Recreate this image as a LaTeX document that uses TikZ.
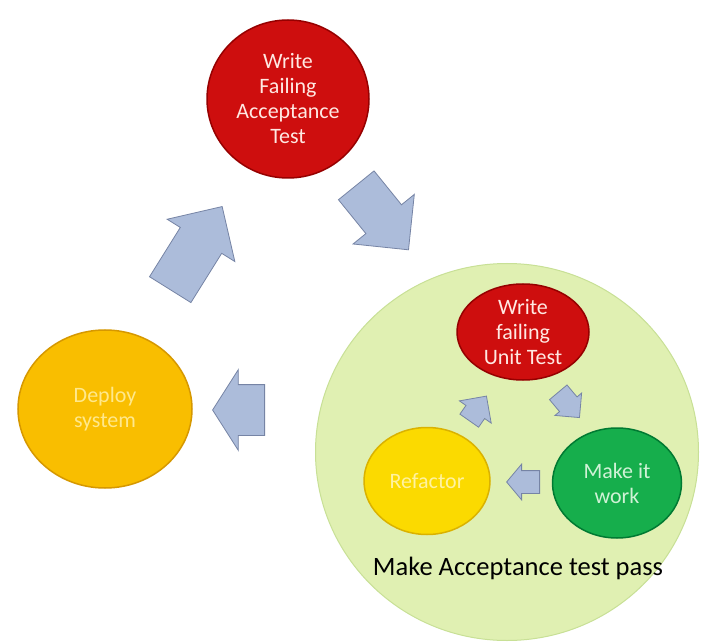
\documentclass[tikz,border=0pt]{standalone}
\usepackage{fontspec}
\setmainfont{Carlito}
\usepackage{tikz}
\usetikzlibrary{shapes.geometric,shapes.arrows}
\definecolor{redfill}{RGB}{206,14,14}
\definecolor{redrim}{RGB}{150,0,0}
\definecolor{redtext}{RGB}{255,232,226}
\definecolor{orangefill}{RGB}{249,190,0}
\definecolor{orangerim}{RGB}{214,152,0}
\definecolor{orangetext}{RGB}{255,232,140}
\definecolor{yellowfill}{RGB}{251,218,0}
\definecolor{yellowrim}{RGB}{218,178,0}
\definecolor{yellowtext}{RGB}{255,242,160}
\definecolor{greenfill}{RGB}{22,174,76}
\definecolor{greenrim}{RGB}{0,122,50}
\definecolor{greentext}{RGB}{208,242,214}
\definecolor{passfill}{RGB}{224,240,178}
\definecolor{passrim}{RGB}{200,224,150}
\definecolor{arrowfill}{RGB}{172,188,218}
\definecolor{arrowline}{RGB}{118,132,165}

\tikzset{
  blob/.style={ellipse, inner sep=0pt, align=center, line width=1.5pt, font=\fontsize{22}{25}\selectfont},
  blockarrow/.style={single arrow, anchor=tail, inner xsep=0pt, fill=arrowfill, draw=arrowline, line width=0.8pt}
}

\begin{document}
\begin{tikzpicture}[x=1pt, y=-1pt]
\useasboundingbox [fill=white] (0,0) rectangle (704,644);

% outer cycle
\node [blob, fill=passfill, draw=passrim, line width=1pt, minimum width=383pt, minimum height=377pt] (pass) at (507,452) {};
\node [blob, fill=redfill, draw=redrim, text=redtext, minimum width=162pt, minimum height=158pt] (accept) at (288,99) {Write\\Failing\\Acceptance\\Test};
\node [blob, fill=orangefill, draw=orangerim, text=orangetext, minimum width=174pt, minimum height=158pt] (deploy) at (105,409) {Deploy\\system};

% inner cycle
\node [blob, fill=redfill, draw=redrim, text=redtext, minimum width=132pt, minimum height=96pt] (unit) at (523,332) {Write\\failing\\Unit Test};
\node [blob, fill=yellowfill, draw=yellowrim, text=yellowtext, minimum width=126pt, minimum height=107pt] (refactor) at (427,481) {Refactor};
\node [blob, fill=greenfill, draw=greenrim, text=greentext, minimum width=129pt, minimum height=110pt] (work) at (617,483) {Make it\\work};
\node [font=\fontsize{26.5}{30}\selectfont] (passlabel) at (518,568) {Make Acceptance test pass};

% big arrows
\node [blockarrow, rotate=58, minimum height=98pt, inner ysep=24pt, single arrow head extend=15.5pt] (upArrow) at (170,290) {};
\node [blockarrow, rotate=-51, minimum height=83pt, inner ysep=22.5pt, single arrow head extend=16.5pt] (downArrow) at (356,185) {};
\node [blockarrow, rotate=180, minimum height=52pt, inner ysep=25pt, single arrow head extend=15pt, single arrow tip angle=115] (backArrow) at (265,410) {};

% small arrows
\node [blockarrow, rotate=55, minimum height=30pt, inner ysep=11pt, single arrow head extend=8pt] (upSmall) at (469,421) {};
\node [blockarrow, rotate=-50, minimum height=33pt, inner ysep=11pt, single arrow head extend=6pt] (downSmall) at (558,392) {};
\node [blockarrow, rotate=180, minimum height=33pt, inner ysep=11pt, single arrow head extend=6.5pt, single arrow tip angle=100] (backSmall) at (540,482) {};
\end{tikzpicture}
\end{document}
